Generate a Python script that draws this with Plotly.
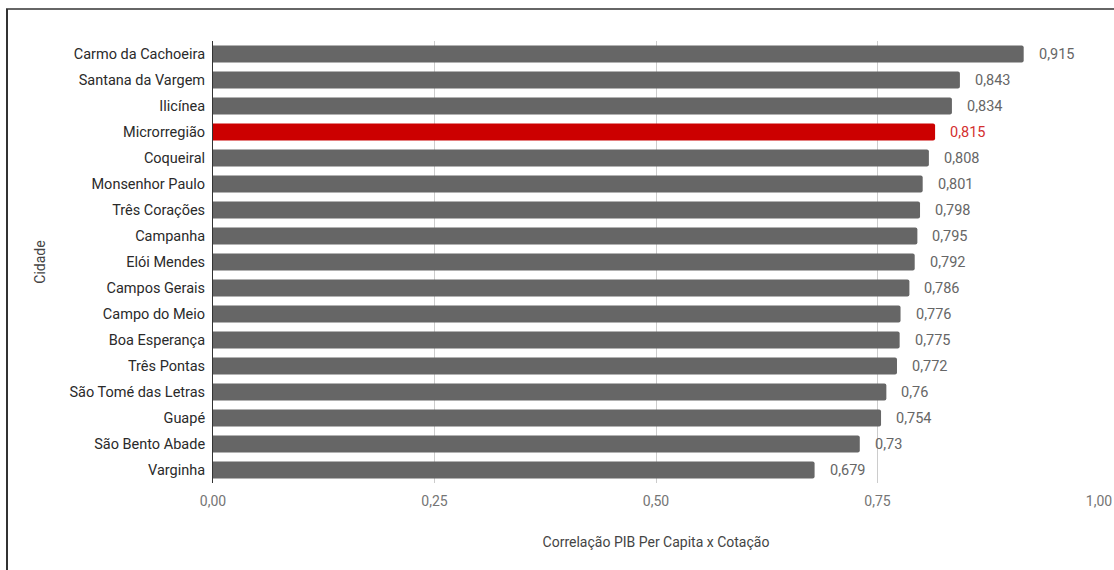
import plotly.graph_objects as go

cidades = ["Carmo da Cachoeira", "Santana da Vargem", "Ilicínea", "Microrregião", "Coqueiral",
           "Monsenhor Paulo", "Três Corações", "Campanha", "Elói Mendes", "Campos Gerais",
           "Campo do Meio", "Boa Esperança", "Três Pontas", "São Tomé das Letras", "Guapé",
           "São Bento Abade", "Varginha"]
valores = [0.915, 0.843, 0.834, 0.815, 0.808, 0.801, 0.798, 0.795, 0.792, 0.786,
           0.776, 0.775, 0.772, 0.76, 0.754, 0.73, 0.679]
rotulos = ["0,915", "0,843", "0,834", "0,815", "0,808", "0,801", "0,798", "0,795", "0,792", "0,786",
           "0,776", "0,775", "0,772", "0,76", "0,754", "0,73", "0,679"]
tick_vals = [0, 0.25, 0.5, 0.75, 1.0]
tick_text = ["0,00", "0,25", "0,50", "0,75", "1,00"]
destaque = "Microrregião"

bar_colors = ["#cc0000" if c == destaque else "#666666" for c in cidades]
lab_colors = ["#d32f2f" if c == destaque else "#666666" for c in cidades]

fig = go.Figure()
fig.add_trace(go.Bar(
    x=valores, y=cidades, orientation="h",
    marker=dict(color=bar_colors, line=dict(width=0), cornerradius=2),
    hoverinfo="skip",
))

for c, v, t, col in zip(cidades, valores, rotulos, lab_colors):
    fig.add_annotation(x=v, y=c, text=t, showarrow=False, xanchor="left", xshift=13,
                       font=dict(family="Roboto", size=14.5, color=col))

W, H = 1114, 570
L, R, T, B = 213, 15, 41, 87
pw, ph = W - L - R, H - T - B

def px_x(px):
    return (px - L) / pw

def px_y(py):
    return (H - B - py) / ph

# frame lines (left and top)
fig.add_shape(type="line", xref="paper", yref="paper", x0=px_x(7), x1=px_x(7),
              y0=px_y(9), y1=px_y(575), line=dict(color="#333333", width=2))
fig.add_shape(type="line", xref="paper", yref="paper", x0=px_x(6), x1=px_x(1120),
              y0=px_y(9), y1=px_y(9), line=dict(color="#333333", width=1.5))

fig.update_layout(
    width=W, height=H,
    margin=dict(l=L, r=R, t=T, b=B, autoexpand=False),
    paper_bgcolor="white", plot_bgcolor="white",
    bargap=0.34,
    showlegend=False,
    font=dict(family="Roboto", size=14, color="#222222"),
    xaxis=dict(range=[0, 1.0], tickvals=tick_vals, ticktext=tick_text,
               showgrid=True, gridcolor="#cccccc", gridwidth=1, zeroline=False,
               showline=False, ticks="", ticklabelstandoff=8, automargin=False,
               tickfont=dict(size=14, color="#757575"),
               title=dict(text="Correlação PIB Per Capita x Cotação",
                          font=dict(size=14, color="#444444"), standoff=29),
               fixedrange=True),
    yaxis=dict(categoryorder="array", categoryarray=cidades[::-1],
               range=[-0.5, len(cidades) - 0.5],
               showline=True, linecolor="#333333", linewidth=1,
               ticks="", ticklabelstandoff=4, automargin=False,
               tickfont=dict(size=14.5, color="#2a2a2a"),
               title=dict(text="Cidade", font=dict(size=14, color="#444444"), standoff=20),
               fixedrange=True),
)

fig.write_html("out.html")
